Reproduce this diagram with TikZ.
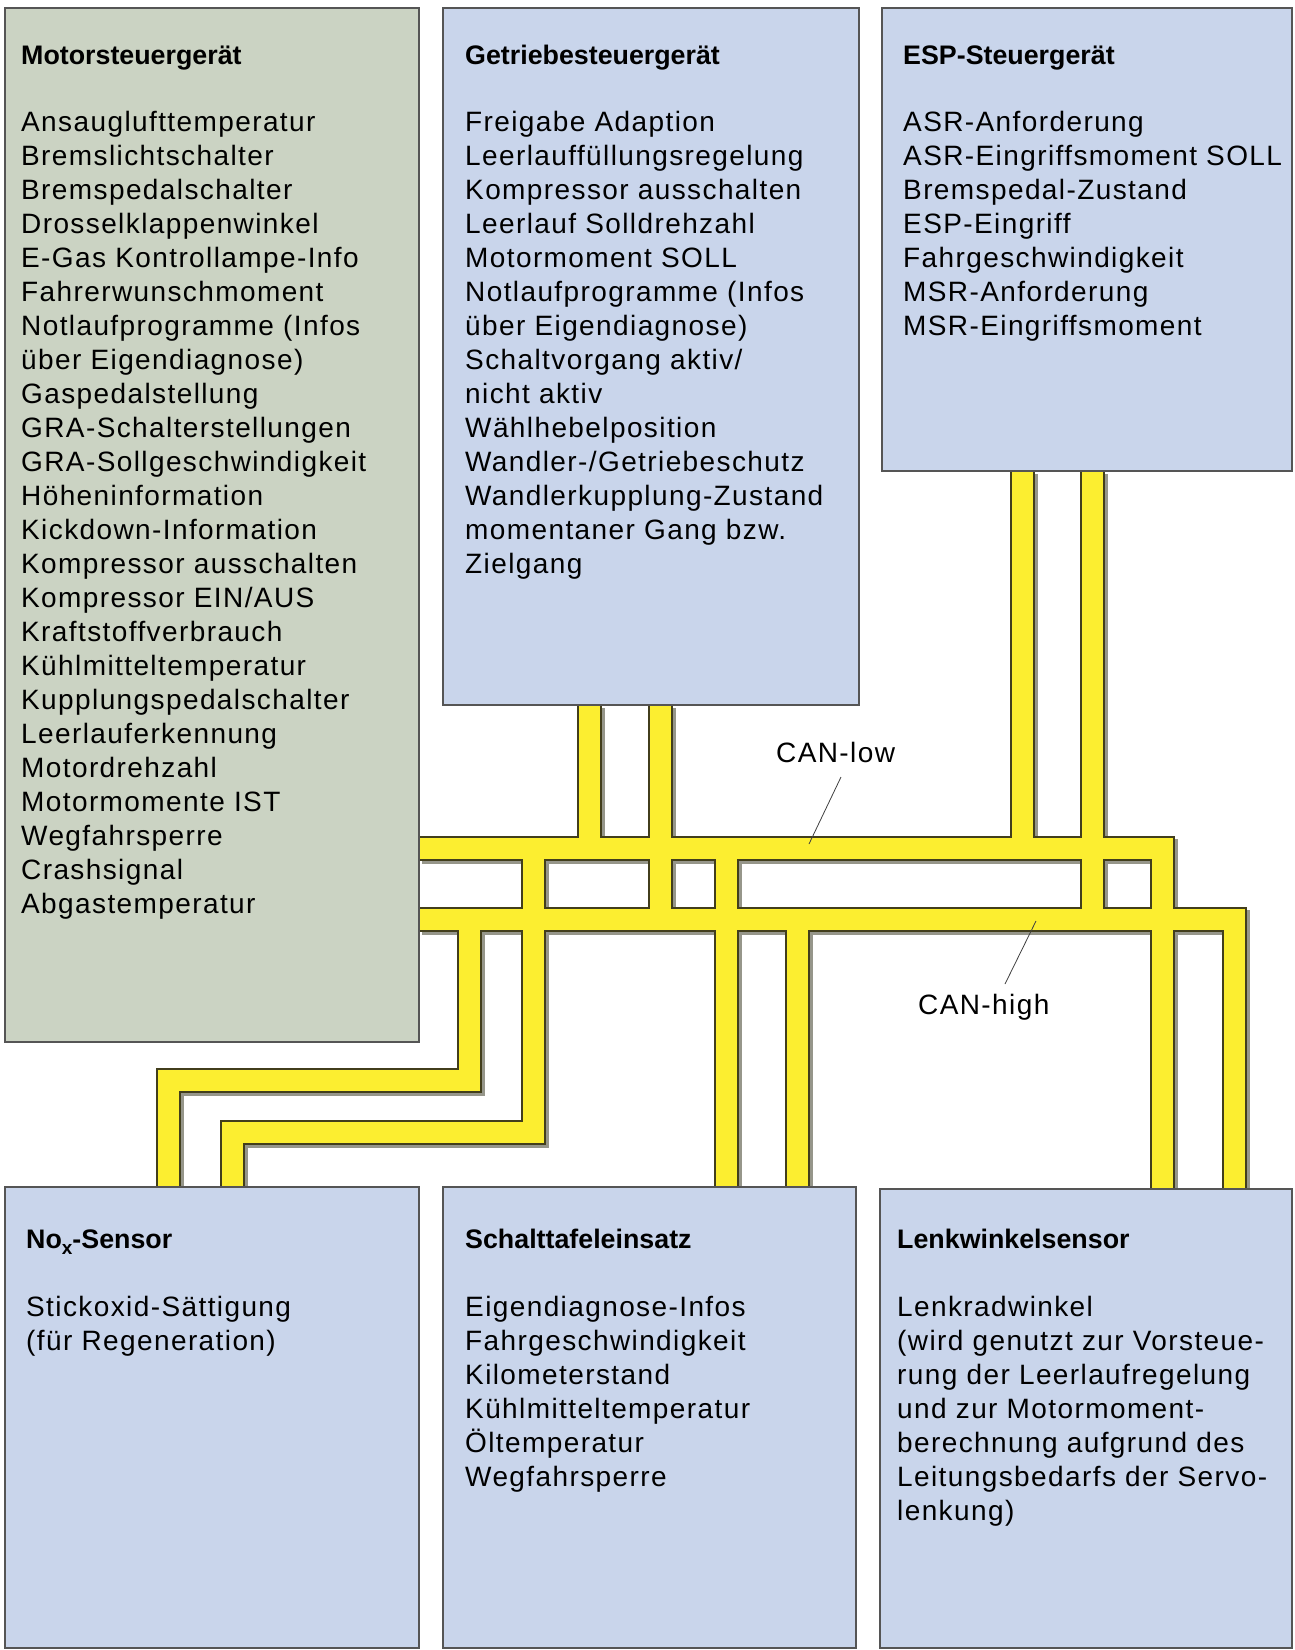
\documentclass[tikz,border=0pt]{standalone}
\usepackage{fontspec}
\usetikzlibrary{calc}
\newfontfamily\bodyf{Liberation Sans}[LetterSpace=5]
\newfontfamily\titlef{Liberation Sans}
\definecolor{motorfill}{RGB}{203,211,195}
\definecolor{boxfill}{RGB}{201,213,235}
\definecolor{boxline}{RGB}{85,85,85}
\definecolor{wireyel}{RGB}{252,238,48}
\definecolor{wireout}{RGB}{66,62,28}
\definecolor{wshadow}{RGB}{150,150,138}
\pgfdeclarelayer{bg}
\pgfsetlayers{bg,main}
\begin{document}
\begin{tikzpicture}[x=1pt,y=-1pt,
  box/.style={draw=boxline,line width=2pt,anchor=north west,inner sep=0pt,outer sep=0pt},
  ttl/.style={anchor=base west,inner sep=0pt,font={\titlef\bfseries\fontsize{26.8}{34}\selectfont}},
  txt/.style={anchor=base west,inner sep=0pt,font={\bodyf\fontsize{28}{34}\selectfont}},
  wire/.style={draw=wireout,line width=25pt,line join=miter,
    preaction={draw=wshadow,line width=25pt,transform canvas={shift={(3,3)}}},
    postaction={draw=wireyel,line width=21pt}},
  leader/.style={draw=black!75,line width=0.8pt}]

\begin{pgfonlayer}{bg}
\fill[white] (0,0) rectangle (1295,1650);
\end{pgfonlayer}
\useasboundingbox (0,0) rectangle (1295,1650);

% boxes
\node[box,fill=motorfill,minimum width=414pt,minimum height=1034pt] (motor) at (5,8) {};
\node[box,fill=boxfill,minimum width=416pt,minimum height=697pt] (getr) at (443,8) {};
\node[box,fill=boxfill,minimum width=410pt,minimum height=463pt] (esp) at (882,8) {};
\node[box,fill=boxfill,minimum width=414pt,minimum height=461pt] (nox) at (5,1187) {};
\node[box,fill=boxfill,minimum width=413pt,minimum height=461pt] (schalt) at (443,1187) {};
\node[box,fill=boxfill,minimum width=412pt,minimum height=459pt] (lenk) at (880,1189) {};

% bus coordinates
\coordinate (low) at (0,848.5);
\coordinate (high) at (0,919);
\coordinate (ga) at ($(getr.south west)+(146,0)$);
\coordinate (gb) at ($(getr.south west)+(217,0)$);
\coordinate (ea) at ($(esp.south west)+(140,0)$);
\coordinate (eb) at ($(esp.south west)+(210,0)$);
\coordinate (na) at ($(nox.north west)+(163,0)$);
\coordinate (nb) at ($(nox.north west)+(227,0)$);
\coordinate (sa) at ($(schalt.north west)+(283,0)$);
\coordinate (sb) at ($(schalt.north west)+(354.5,0)$);
\coordinate (la) at ($(lenk.north west)+(282,0)$);
\coordinate (lb) at ($(lenk.north west)+(354,0)$);
\coordinate (nA) at (469.5,1080);
\coordinate (nB) at (533.5,1132);

\begin{pgfonlayer}{bg}
\path[wire]
  (motor.east |- low) -| (la)
  (motor.east |- high) -| (lb)
  (ga) -- (ga |- low)
  (gb) -- (gb |- high)
  (ea) -- (ea |- low)
  (eb) -- (eb |- high)
  (sa) -- (sa |- low)
  (sb) -- (sb |- high)
  (na) |- (nA) -- (nA |- high)
  (nb) |- (nB) -- (nB |- low);
\end{pgfonlayer}

% labels
\node[txt] (canlow) at (776,762) {CAN-low};
\node[txt] (canhigh) at (918,1014) {CAN-high};
\coordinate (lowtip) at (809,844);
\coordinate (hightip) at (1036,921);
\draw[leader] ($(canlow.base west)+(65,15)$) -- (lowtip);
\draw[leader] ($(canhigh.base west)+(87,-30)$) -- (hightip);

% titles
\node[ttl] (motor-t) at (21,64) {Motorsteuergerät};
\node[ttl] (getr-t) at (465,64) {Getriebesteuergerät};
\node[ttl] (esp-t) at (903,64) {ESP-Steuergerät};
\node[ttl] (nox-t) at (26,1248) {No\raisebox{-6pt}{\fontsize{19}{19}\selectfont x}-Sensor};
\node[ttl] (schalt-t) at (465,1248) {Schalttafeleinsatz};
\node[ttl] (lenk-t) at (897,1248) {Lenkwinkelsensor};

% lists
\foreach \t [count=\i] in {Ansauglufttemperatur, Bremslichtschalter, Bremspedalschalter,
  Drosselklappenwinkel, E-Gas Kontrollampe-Info, Fahrerwunschmoment,
  Notlaufprogramme (Infos, über Eigendiagnose), Gaspedalstellung,
  GRA-Schalterstellungen, GRA-Sollgeschwindigkeit, Höheninformation,
  Kickdown-Information, Kompressor ausschalten, Kompressor EIN/AUS,
  Kraftstoffverbrauch, Kühlmitteltemperatur, Kupplungspedalschalter,
  Leerlauferkennung, Motordrehzahl, Motormomente IST, Wegfahrsperre,
  Crashsignal, Abgastemperatur}
  \node[txt] (mot-\i) at (21,{131+34*(\i-1)}) {\t};

\foreach \t [count=\i] in {Freigabe Adaption, Leerlauffüllungsregelung,
  Kompressor ausschalten, Leerlauf Solldrehzahl, Motormoment SOLL,
  Notlaufprogramme (Infos, über Eigendiagnose), Schaltvorgang aktiv/,
  nicht aktiv, Wählhebelposition, Wandler-/Getriebeschutz,
  Wandlerkupplung-Zustand, momentaner Gang bzw., Zielgang}
  \node[txt] (get-\i) at (465,{131+34*(\i-1)}) {\t};

\foreach \t [count=\i] in {ASR-Anforderung, ASR-Eingriffsmoment SOLL,
  Bremspedal-Zustand, ESP-Eingriff, Fahrgeschwindigkeit,
  MSR-Anforderung, MSR-Eingriffsmoment}
  \node[txt] (esp-\i) at (903,{131+34*(\i-1)}) {\t};

\foreach \t [count=\i] in {Stickoxid-Sättigung, {(für Regeneration)}}
  \node[txt] (nox-\i) at (26,{1316+34*(\i-1)}) {\t};

\foreach \t [count=\i] in {Eigendiagnose-Infos, Fahrgeschwindigkeit,
  Kilometerstand, Kühlmitteltemperatur, Öltemperatur, Wegfahrsperre}
  \node[txt] (sch-\i) at (465,{1316+34*(\i-1)}) {\t};

\foreach \t [count=\i] in {Lenkradwinkel, {(wird genutzt zur Vorsteue-},
  rung der Leerlaufregelung, und zur Motormoment-,
  berechnung aufgrund des, Leitungsbedarfs der Servo-, {lenkung)}}
  \node[txt] (lnk-\i) at (897,{1316+34*(\i-1)}) {\t};

\end{tikzpicture}
\end{document}
